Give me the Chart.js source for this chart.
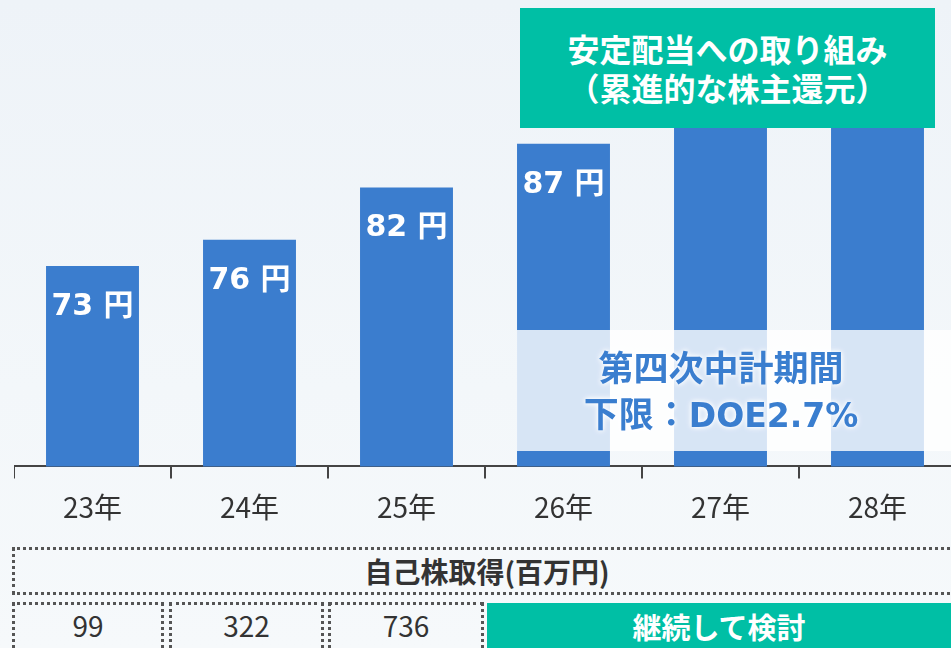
<!DOCTYPE html>
<html lang="ja">
<head>
<meta charset="utf-8">
<script src="https://cdn.jsdelivr.net/npm/chart.js@4"></script>
<style>
  html, body { margin: 0; padding: 0; }
  body {
    width: 951px; height: 648px; overflow: hidden; position: relative;
    background: linear-gradient(to bottom, #EEF3F8 0%, #F3F7FA 60%, #F6F9FB 100%);
    font-family: "Noto Sans CJK JP", "Noto Sans", sans-serif;
  }
  #chart { position: absolute; left: 14px; top: 0; }
  .box { position: absolute; box-sizing: border-box; display: flex; align-items: center; justify-content: center; text-align: center; }
  #policy { left: 520px; top: 8px; width: 415px; height: 120px; background: #00BFA5; color: #fff; font-weight: 700; font-size: 32px; line-height: 39px; }
  #doe { left: 517px; top: 330px; width: 434px; height: 121px; padding-right: 26px; background: rgba(255, 255, 255, 0.8); color: #3A7ECF; font-weight: 700; font-size: 35px; line-height: 46px; text-shadow: 0 0 4px #fff, 0 0 6px #fff; }
  #doe span { font-family: "DejaVu Sans", "Noto Sans CJK JP", sans-serif; font-size: 33px; }
  .cell { border: 3px dotted #555; color: #333; }
  #head { left: 12px; top: 547px; width: 950px; height: 48px; font-weight: 700; font-size: 28px; }
  .num { top: 602px; height: 60px; font-size: 28px; padding-bottom: 14px; }
  #cont { left: 487px; top: 603px; width: 464px; height: 60px; background: #00BFA5; color: #fff; font-weight: 700; font-size: 29px; padding-bottom: 14px; }
</style>
</head>
<body>
<canvas id="chart" width="942" height="536"></canvas>
<div class="box" id="policy"><div>安定配当への取り組み<br>（累進的な株主還元）</div></div>
<div class="box" id="doe"><div>第四次中計期間<br>下限：<span>DOE2.7%</span></div></div>
<div class="box cell" id="head">自己株取得(百万円)</div>
<div class="box cell num" style="left:12px;width:152px">99</div>
<div class="box cell num" style="left:169px;width:155px">322</div>
<div class="box cell num" style="left:328px;width:156px">736</div>
<div class="box" id="cont">継続して検討</div>
<script>
// 年度別 1株当たり配当（円）。27年・28年は上部が枠に隠れている
const years = ['23年', '24年', '25年', '26年', '27年', '28年'];
const dividends = [73, 76, 82, 87, 95, 95];
const labelCount = 4; // 金額を表示する棒の数
const yMin = 50, yMax = 103.5;

const BLUE = '#3B7DCE';

const barLabels = {
  id: 'barLabels',
  afterDatasetsDraw(chart) {
    const ctx = chart.ctx;
    const meta = chart.getDatasetMeta(0);
    ctx.save();
    ctx.fillStyle = '#fff';
    ctx.font = 'bold 30px "DejaVu Sans", "Noto Sans CJK JP", sans-serif';
    ctx.textAlign = 'center';
    ctx.textBaseline = 'middle';
    meta.data.forEach((bar, i) => {
      if (i >= labelCount) return;
      ctx.fillText(dividends[i] + ' 円', bar.x, bar.y + 41);
    });
    ctx.restore();
  }
};

new Chart(document.getElementById('chart'), {
  type: 'bar',
  data: {
    labels: years,
    datasets: [{
      data: dividends,
      backgroundColor: BLUE,
      categoryPercentage: 1,
      barPercentage: 0.592,
    }],
  },
  options: {
    responsive: false,
    animation: false,
    layout: { padding: 0 },
    plugins: { legend: { display: false }, tooltip: { enabled: false } },
    scales: {
      y: { display: false, min: yMin, max: yMax },
      x: {
        offset: true,
        border: { display: true, color: '#444', width: 2 },
        grid: { offset: true, drawOnChartArea: false, drawTicks: true, tickLength: 12, color: '#444', lineWidth: 2 },
        ticks: { color: '#333', padding: 12, font: { size: 28, family: '"Noto Sans CJK JP", sans-serif' } },
      },
    },
  },
  plugins: [barLabels],
});
</script>
</body>
</html>
